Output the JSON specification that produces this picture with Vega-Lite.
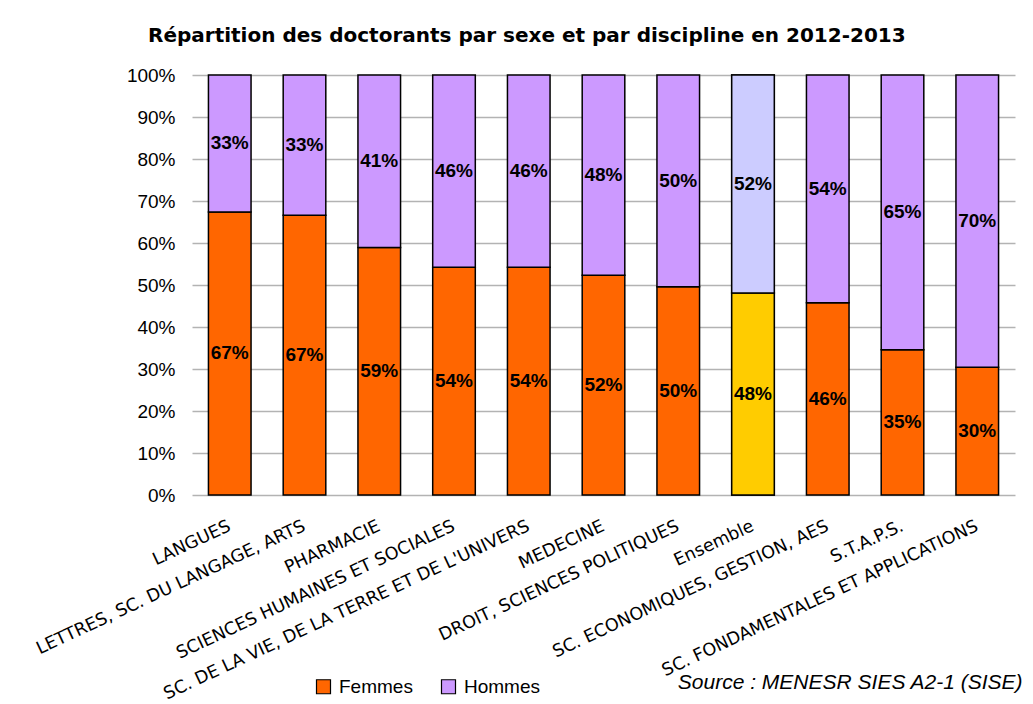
{
  "$schema": "https://vega.github.io/schema/vega-lite/v6.json",
  "width": 823,
  "height": 420,
  "autosize": {"type": "none"},
  "padding": {"left": 192, "top": 75, "right": 18, "bottom": 209},
  "background": "white",
  "title": {
    "text": "Répartition des doctorants par sexe et par discipline en 2012-2013",
    "font": "DejaVu Sans",
    "fontSize": 20,
    "fontWeight": "bold",
    "color": "black",
    "anchor": "start",
    "frame": "group",
    "dx": -44,
    "offset": 20
  },
  "data": {
    "values": [
      {"discipline": "LANGUES", "sexe": "Femmes", "pct": 67.4},
      {"discipline": "LANGUES", "sexe": "Hommes", "pct": 32.6},
      {"discipline": "LETTRES, SC. DU LANGAGE, ARTS", "sexe": "Femmes", "pct": 66.6},
      {"discipline": "LETTRES, SC. DU LANGAGE, ARTS", "sexe": "Hommes", "pct": 33.4},
      {"discipline": "PHARMACIE", "sexe": "Femmes", "pct": 58.9},
      {"discipline": "PHARMACIE", "sexe": "Hommes", "pct": 41.1},
      {"discipline": "SCIENCES HUMAINES ET SOCIALES", "sexe": "Femmes", "pct": 54.2},
      {"discipline": "SCIENCES HUMAINES ET SOCIALES", "sexe": "Hommes", "pct": 45.8},
      {"discipline": "SC. DE LA VIE, DE LA TERRE ET DE L'UNIVERS", "sexe": "Femmes", "pct": 54.2},
      {"discipline": "SC. DE LA VIE, DE LA TERRE ET DE L'UNIVERS", "sexe": "Hommes", "pct": 45.8},
      {"discipline": "MEDECINE", "sexe": "Femmes", "pct": 52.3},
      {"discipline": "MEDECINE", "sexe": "Hommes", "pct": 47.7},
      {"discipline": "DROIT, SCIENCES POLITIQUES", "sexe": "Femmes", "pct": 49.6},
      {"discipline": "DROIT, SCIENCES POLITIQUES", "sexe": "Hommes", "pct": 50.4},
      {"discipline": "Ensemble", "sexe": "Femmes", "pct": 48.1},
      {"discipline": "Ensemble", "sexe": "Hommes", "pct": 51.9},
      {"discipline": "SC. ECONOMIQUES, GESTION, AES", "sexe": "Femmes", "pct": 45.8},
      {"discipline": "SC. ECONOMIQUES, GESTION, AES", "sexe": "Hommes", "pct": 54.2},
      {"discipline": "S.T.A.P.S.", "sexe": "Femmes", "pct": 34.6},
      {"discipline": "S.T.A.P.S.", "sexe": "Hommes", "pct": 65.4},
      {"discipline": "SC. FONDAMENTALES ET APPLICATIONS", "sexe": "Femmes", "pct": 30.4},
      {"discipline": "SC. FONDAMENTALES ET APPLICATIONS", "sexe": "Hommes", "pct": 69.6}
    ]
  },
  "encoding": {
    "x": {
      "field": "discipline",
      "type": "nominal",
      "sort": null,
      "scale": {"paddingInner": 0.43, "paddingOuter": 0.22},
      "axis": {
        "title": "Source : MENESR SIES A2-1 (SISE)",
        "titleFont": "Liberation Sans",
        "titleFontSize": 21,
        "titleFontStyle": "italic",
        "titleFontWeight": "normal",
        "titleColor": "black",
        "titleAlign": "right",
        "titleBaseline": "alphabetic",
        "titleAnchor": null,
        "titleX": 830,
        "titleY": 193,
        "labelAngle": -25,
        "labelAlign": "right",
        "labelBaseline": "middle",
        "labelFont": "DejaVu Sans",
        "labelFontSize": 17.5,
        "labelColor": "black",
        "labelPadding": 30,
        "labelOverlap": false,
        "labelLimit": 0,
        "ticks": false,
        "domain": false,
        "grid": false
      }
    }
  },
  "layer": [
    {
      "mark": {"type": "bar", "stroke": "black", "strokeWidth": 1.5},
      "encoding": {
        "y": {
          "field": "pct",
          "type": "quantitative",
          "stack": "zero",
          "scale": {"domain": [0, 100], "nice": false},
          "axis": {
            "title": null,
            "values": [0, 10, 20, 30, 40, 50, 60, 70, 80, 90, 100],
            "labelExpr": "datum.value + '%'",
            "labelFont": "Liberation Sans",
            "labelFontSize": 19,
            "labelColor": "black",
            "labelPadding": 17,
            "ticks": false,
            "domain": false,
            "grid": true,
            "gridColor": "#b3b3b3",
            "gridWidth": 1.5
          }
        },
        "color": {
          "field": "sexe",
          "type": "nominal",
          "scale": {"domain": ["Femmes", "Hommes"], "range": ["#FF6600", "#CC99FF"]},
          "legend": {
            "title": null,
            "orient": "none",
            "direction": "horizontal",
            "legendX": 122,
            "legendY": 602,
            "padding": 0,
            "symbolType": "square",
            "symbolSize": 196,
            "symbolStrokeColor": "black",
            "symbolStrokeWidth": 1.2,
            "symbolOpacity": 1,
            "labelFont": "Liberation Sans",
            "labelFontSize": 19,
            "labelColor": "black",
            "labelOffset": 6,
            "columnPadding": 26
          }
        },
        "order": {"field": "sexe", "sort": "ascending"}
      }
    },
    {
      "transform": [{"filter": "datum.discipline === 'Ensemble'"}],
      "mark": {"type": "bar", "stroke": "black", "strokeWidth": 1.5},
      "encoding": {
        "y": {"field": "pct", "type": "quantitative", "stack": "zero"},
        "color": {
          "field": "sexe",
          "type": "nominal",
          "scale": {"domain": ["Femmes", "Hommes"], "range": ["#FFCC00", "#CCCCFF"]},
          "legend": null
        },
        "order": {"field": "sexe", "sort": "ascending"}
      }
    },
    {
      "transform": [
        {"stack": "pct", "groupby": ["discipline"], "sort": [{"field": "sexe", "order": "ascending"}], "as": ["y0", "y1"]},
        {"calculate": "(datum.y0 + datum.y1) / 2", "as": "mid"},
        {"calculate": "format(datum.pct, '.0f') + '%'", "as": "label"}
      ],
      "mark": {"type": "text", "font": "Liberation Sans", "fontSize": 19, "fontWeight": "bold", "color": "black", "baseline": "middle", "align": "center"},
      "encoding": {
        "y": {"field": "mid", "type": "quantitative", "stack": null},
        "text": {"field": "label", "type": "nominal"}
      }
    }
  ],
  "resolve": {"scale": {"color": "independent"}},
  "config": {
    "view": {"stroke": null}
  }
}
